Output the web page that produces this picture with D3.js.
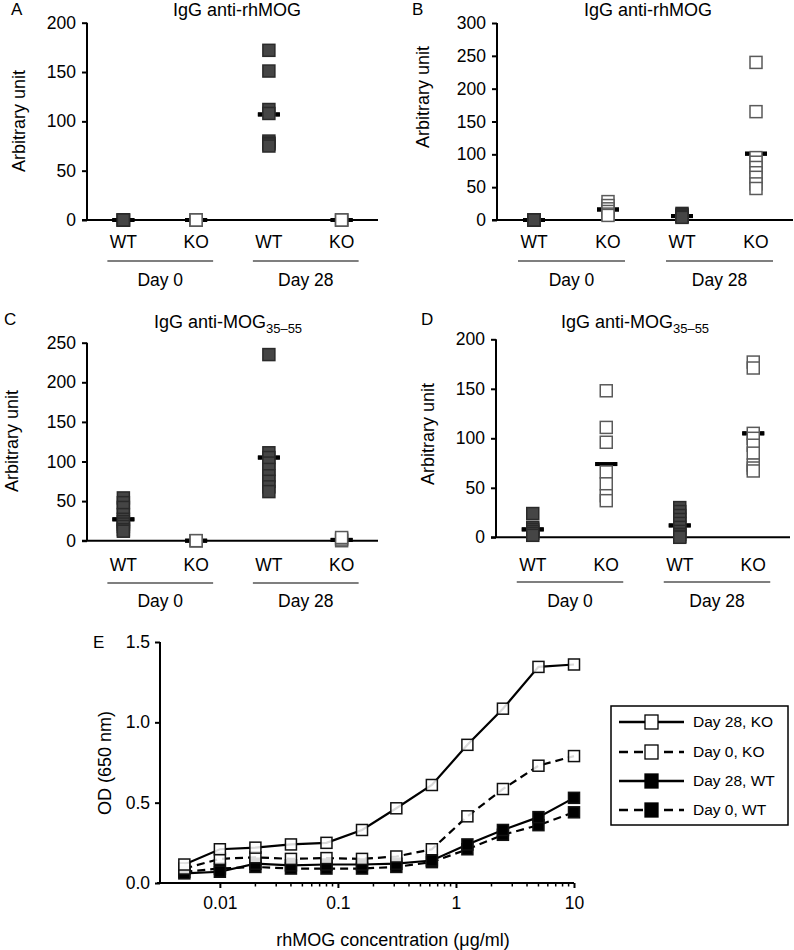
<!DOCTYPE html>
<html>
<head>
<meta charset="utf-8">
<script src="https://cdn.jsdelivr.net/npm/d3@7"></script>
<style>
  html, body { margin: 0; padding: 0; background: #fff; }
  svg { display: block; font-family: "Liberation Sans", Arial, Helvetica, sans-serif; }
</style>
</head>
<body>
<svg id="chart" width="794" height="950"></svg>
<script>
// ---------- DATA ----------
const categories = ["WT", "KO", "WT", "KO"];
const genotypes = ["WT", "KO", "WT", "KO"];
const days = ["Day 0", "Day 28"];

// Panel A: IgG anti-rhMOG
const panelA_values = [
  [0, 0, 0, 0, 0],
  [0, 0, 0, 0],
  [172, 151, 112, 108, 80, 78, 77, 75],
  [0, 0, 0, 0]
];
const panelA_means = [0, 0, 107, 0];
const panelA_ticks = [0, 50, 100, 150, 200];

// Panel B: IgG anti-rhMOG
const panelB_values = [
  [0, 0, 0, 0],
  [28, 22, 17, 13, 9, 7],
  [10, 8, 6, 5, 4],
  [240, 165, 95, 88, 80, 72, 65, 55, 48]
];
const panelB_means = [0, 16, 6, 101];
const panelB_ticks = [0, 50, 100, 150, 200, 250, 300];

// Panel C: IgG anti-MOG35-55
const panelC_values = [
  [54, 48, 42, 33, 27, 24, 21, 18, 14, 12],
  [0, 0, 0],
  [235, 111, 105, 98, 90, 82, 75, 68, 62],
  [0, 2, 4]
];
const panelC_means = [27, 0, 105, 1];
const panelC_ticks = [0, 50, 100, 150, 200, 250];

// Panel D: IgG anti-MOG35-55
const panelD_values = [
  [24, 10, 8, 6, 4, 2],
  [148, 111, 96, 66, 54, 42, 37],
  [30, 26, 22, 18, 14, 10, 6, 3, 1, 0],
  [177, 171, 105, 100, 93, 85, 73, 70, 67]
];
const panelD_means = [8, 74, 12, 105];
const panelD_ticks = [0, 50, 100, 150, 200];

// Panel E: OD vs rhMOG concentration
const concentrations = [0.005, 0.01, 0.02, 0.04, 0.08, 0.16, 0.3125, 0.625, 1.25, 2.5, 5, 10];
const seriesNames = ["Day 28, KO", "Day 0, KO", "Day 28, WT", "Day 0, WT"];
const day28KO = [0.115, 0.21, 0.22, 0.24, 0.25, 0.33, 0.465, 0.61, 0.86, 1.085, 1.345, 1.36];
const day0KO  = [0.09, 0.15, 0.16, 0.15, 0.155, 0.15, 0.165, 0.21, 0.415, 0.585, 0.73, 0.79];
const day28WT = [0.06, 0.07, 0.12, 0.11, 0.115, 0.115, 0.12, 0.14, 0.24, 0.33, 0.41, 0.53];
const day0WT  = [0.07, 0.09, 0.10, 0.09, 0.09, 0.09, 0.10, 0.13, 0.21, 0.30, 0.36, 0.44];
const panelE_yTicks = [0, 0.5, 1.0, 1.5];
const panelE_xTicks = [0.01, 0.1, 1, 10];

// ---------- DRAW ----------
const svg = d3.select("#chart");
const FONT = 17.5;

function scatterPanel(cfg) {
  const g = svg.append("g");
  const y = d3.scaleLinear().domain([0, cfg.max]).range([cfg.y0, cfg.y1]);
  const x = d3.scalePoint().domain(d3.range(categories.length)).range([cfg.ax, cfg.x1]).padding(0.5);

  g.append("text").attr("x", cfg.letter[0]).attr("y", cfg.letter[1])
    .attr("font-size", 17).text(cfg.letterText);
  const t = g.append("text").attr("x", cfg.title[0]).attr("y", cfg.title[1])
    .attr("text-anchor", "middle").attr("font-size", 18);
  t.append("tspan").text(cfg.titleText);
  if (cfg.sub) {
    t.append("tspan").attr("font-size", 13).attr("dy", 5).text(cfg.sub);
  }
  g.append("text")
    .attr("transform", `translate(${cfg.ylab[0]},${cfg.ylab[1]}) rotate(-90)`)
    .attr("text-anchor", "middle").attr("dy", "0.35em")
    .attr("font-size", 18).text("Arbitrary unit");

  const yAxis = d3.axisLeft(y).tickValues(cfg.ticks).tickSize(5).tickPadding(6).tickFormat(d3.format("d"));
  const ya = g.append("g").attr("transform", `translate(${cfg.ax},0)`).call(yAxis);
  ya.select(".domain").attr("stroke", "#000").attr("stroke-width", 2).attr("d", `M0,${cfg.y1}V${cfg.y0}`);
  ya.selectAll(".tick line").attr("stroke", "#000").attr("stroke-width", 2);
  ya.selectAll(".tick text").attr("font-size", FONT).attr("font-family", null).attr("fill", "#000");

  g.append("line").attr("x1", cfg.ax - 5).attr("x2", cfg.x1).attr("y1", y(0)).attr("y2", y(0))
    .attr("stroke", "#000").attr("stroke-width", 2);

  categories.forEach((c, i) => {
    g.append("text").attr("x", x(i)).attr("y", cfg.catY).attr("dy", "0.35em")
      .attr("text-anchor", "middle").attr("font-size", FONT).text(c);
  });
  days.forEach((d, j) => {
    const xa = x(2 * j) - 16, xb = x(2 * j + 1) + 17;
    g.append("line").attr("x1", xa).attr("x2", xb).attr("y1", cfg.lineY).attr("y2", cfg.lineY)
      .attr("stroke", "#555").attr("stroke-width", 1.3);
    g.append("text").attr("x", (xa + xb) / 2).attr("y", cfg.dayY).attr("dy", "0.35em")
      .attr("text-anchor", "middle").attr("font-size", FONT).text(d);
  });

  g.selectAll(".mean").data(cfg.means).enter().append("rect")
    .attr("x", (d, i) => x(i) - 11).attr("y", d => y(d) - 2)
    .attr("width", 22).attr("height", 4).attr("fill", "#000");

  const s = 12;
  cfg.values.forEach((vals, i) => {
    const wt = genotypes[i] === "WT";
    g.selectAll(null).data(vals).enter().append("rect")
      .attr("x", x(i) - s / 2).attr("y", d => y(d) - s / 2)
      .attr("width", s).attr("height", s)
      .attr("fill", wt ? "#454545" : "#fff")
      .attr("stroke", wt ? "#2a2a2a" : "#5a5a5a")
      .attr("stroke-width", 1.5);
  });
  g.selectAll(".meanw").data(cfg.means).enter().append("g").each(function (d, i) {
    const gg = d3.select(this);
    gg.append("rect").attr("x", x(i) - 11).attr("y", y(d) - 2).attr("width", 4).attr("height", 4).attr("fill", "#000");
    gg.append("rect").attr("x", x(i) + 7).attr("y", y(d) - 2).attr("width", 4).attr("height", 4).attr("fill", "#000");
  });
}

scatterPanel({
  letterText: "A", letter: [11, 15], titleText: "IgG anti-rhMOG", title: [237, 16], ylab: [19, 121],
  ax: 87, x1: 378, y0: 220, y1: 22.7, max: 200, ticks: panelA_ticks,
  catY: 242, lineY: 261, dayY: 280, values: panelA_values, means: panelA_means
});
scatterPanel({
  letterText: "B", letter: [412, 15], titleText: "IgG anti-rhMOG", title: [648, 16], ylab: [423, 97],
  ax: 497, x1: 793, y0: 220, y1: 23, max: 300, ticks: panelB_ticks,
  catY: 242, lineY: 261, dayY: 280, values: panelB_values, means: panelB_means
});
scatterPanel({
  letterText: "C", letter: [4, 325], titleText: "IgG anti-MOG", sub: "35\u201355", title: [228, 328], ylab: [12, 441],
  ax: 87, x1: 378, y0: 540.7, y1: 342.7, max: 250, ticks: panelC_ticks,
  catY: 565, lineY: 583, dayY: 601, values: panelC_values, means: panelC_means
});
scatterPanel({
  letterText: "D", letter: [421, 325], titleText: "IgG anti-MOG", sub: "35\u201355", title: [635, 328], ylab: [428, 434],
  ax: 496, x1: 790, y0: 537.3, y1: 339.3, max: 200, ticks: panelD_ticks,
  catY: 565, lineY: 582, dayY: 601, values: panelD_values, means: panelD_means
});

// ---------- PANEL E ----------
(function () {
  const g = svg.append("g");
  const x = d3.scaleLog().domain([0.00311, 10]).range([160, 574]);
  const y = d3.scaleLinear().domain([0, 1.5]).range([883, 642]);

  g.append("text").attr("x", 93).attr("y", 648).attr("font-size", 17).text("E");
  g.append("text").attr("transform", "translate(105,763) rotate(-90)")
    .attr("text-anchor", "middle").attr("dy", "0.35em").attr("font-size", 18).text("OD (650 nm)");
  g.append("text").attr("x", 393).attr("y", 940).attr("dy", "0.35em")
    .attr("text-anchor", "middle").attr("font-size", 18).text("rhMOG concentration (\u03BCg/ml)");

  const ya = g.append("g").attr("transform", "translate(160,0)")
    .call(d3.axisLeft(y).tickValues(panelE_yTicks).tickSize(5).tickPadding(5).tickFormat(d3.format(".1f")));
  ya.select(".domain").attr("stroke", "#000").attr("stroke-width", 2).attr("d", "M0,642V883");
  ya.selectAll(".tick line").attr("stroke", "#000").attr("stroke-width", 2);
  ya.selectAll(".tick text").attr("font-size", FONT).attr("font-family", null).attr("fill", "#000");

  const minor = [];
  [0.01, 0.1, 1].forEach(dec => { for (let k = 2; k <= 9; k++) minor.push(dec * k); });
  const xa = g.append("g").attr("transform", "translate(0,883)")
    .call(d3.axisBottom(x).tickValues(panelE_xTicks).tickSize(5).tickPadding(9).tickFormat(d3.format("~g")));
  xa.select(".domain").attr("stroke", "#000").attr("stroke-width", 2).attr("d", "M157,0H574");
  xa.selectAll(".tick line").attr("stroke", "#000").attr("stroke-width", 2);
  xa.selectAll(".tick text").attr("font-size", FONT).attr("font-family", null).attr("fill", "#000");
  g.append("g").selectAll("line").data(minor).enter().append("line")
    .attr("x1", d => x(d)).attr("x2", d => x(d)).attr("y1", 883).attr("y2", 886.5)
    .attr("stroke", "#000").attr("stroke-width", 1.5);

  const series = [
    { name: seriesNames[0], vals: day28KO, dash: null, filled: false },
    { name: seriesNames[1], vals: day0KO, dash: "8,5", filled: false },
    { name: seriesNames[2], vals: day28WT, dash: null, filled: true },
    { name: seriesNames[3], vals: day0WT, dash: "8,5", filled: true }
  ];
  const line = d3.line().x((d, i) => x(concentrations[i])).y(d => y(d));
  const drawOrder = [3, 2, 1, 0];
  drawOrder.forEach(k => {
    const s = series[k];
    g.append("path").attr("d", line(s.vals)).attr("fill", "none")
      .attr("stroke", "#000").attr("stroke-width", 2.2)
      .attr("stroke-dasharray", s.dash);
  });
  const ms = 11;
  drawOrder.forEach(k => {
    const s = series[k];
    g.selectAll(null).data(s.vals).enter().append("rect")
      .attr("x", (d, i) => x(concentrations[i]) - ms / 2).attr("y", d => y(d) - ms / 2)
      .attr("width", ms).attr("height", ms)
      .attr("fill", s.filled ? "#000" : "#fff").attr("fill-opacity", s.filled ? 1 : 0.85)
      .attr("stroke", "#111").attr("stroke-width", 1.5);
  });

  const lg = g.append("g");
  lg.append("rect").attr("x", 611).attr("y", 706).attr("width", 177).attr("height", 119)
    .attr("fill", "#fff").attr("stroke", "#000").attr("stroke-width", 1.5);
  const rowY = [722, 752, 781, 810];
  series.forEach((s, k) => {
    lg.append("line").attr("x1", 619).attr("x2", 684).attr("y1", rowY[k]).attr("y2", rowY[k])
      .attr("stroke", "#000").attr("stroke-width", 2.5).attr("stroke-dasharray", s.dash ? "9,6" : null);
    lg.append("rect").attr("x", 651.5 - 6.5).attr("y", rowY[k] - 7).attr("width", 13).attr("height", 14)
      .attr("fill", s.filled ? "#000" : "#fff").attr("stroke", "#000").attr("stroke-width", 1.3);
    lg.append("text").attr("x", 693).attr("y", rowY[k]).attr("dy", "0.35em")
      .attr("font-size", 15.5).text(s.name);
  });
})();
</script>
</body>
</html>
